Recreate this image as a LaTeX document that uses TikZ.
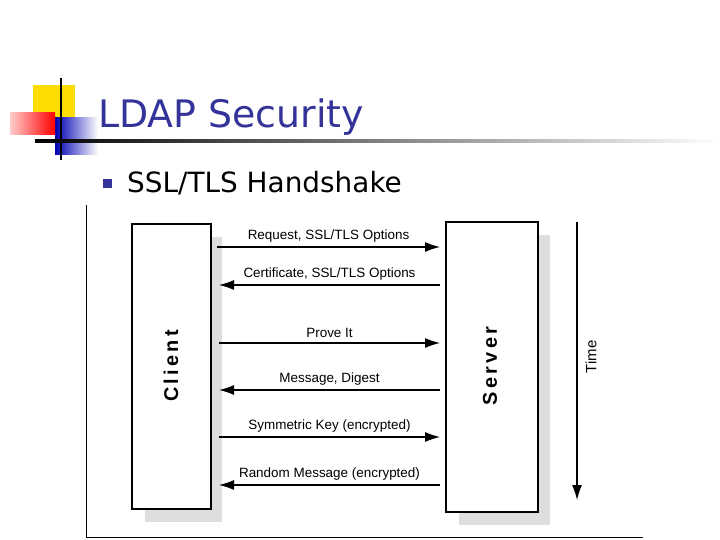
\documentclass[tikz,border=0pt]{standalone}
\usepackage{fontspec}
\setmainfont{Liberation Sans}
\newfontfamily\titlefont{DejaVu Sans}
\usetikzlibrary{arrows.meta}
\definecolor{ttl}{RGB}{51,51,153}
\definecolor{shd}{RGB}{222,222,222}
\tikzset{
  box/.style={draw=black,line width=1.5bp,fill=white},
  shadow/.style={fill=shd,draw=none},
  msg/.style={line width=1.2bp,-{Latex[length=15bp,width=10bp]}},
  lbl/.style={font=\fontsize{13.5}{16}\selectfont,anchor=south},
  x=1bp,y=-1bp
}
\begin{document}
\begin{tikzpicture}
\useasboundingbox (0,0) rectangle (720,540);
\fill[white] (0,0) rectangle (720,540);
% logo
\fill[yellow!80!orange] (33,85) rectangle (75,125);
\shade[left color=blue!70!black,right color=white] (55,118) rectangle (98,155);
\shade[left color=red!20,right color=red] (10,113) rectangle (55,135);
\draw[line width=1.5bp] (61,78) -- (61,160);
\shade[left color=black,right color=white] (35,140) rectangle (720,142.5);
\node[anchor=base west,text=ttl,inner sep=0,font=\titlefont\fontsize{38}{44}\selectfont] (title) at (98,128) {LDAP Security};
\fill[ttl] (103,179) rectangle (112,188);
\node[anchor=base west,inner sep=0,font=\titlefont\fontsize{28}{32}\selectfont] (sub) at (127,193) {SSL/TLS Handshake};
% frame
\draw[line width=1bp] (86,205) -- (86,537) -- (643,537);
% shadows and boxes
\fill[shadow] (145,237) rectangle (222,522);
\fill[shadow] (459,235) rectangle (550,525);
\draw[box] (132,224) rectangle (211,509);
\draw[box] (446,222) rectangle (538,512);
\node[rotate=90,font=\bfseries\fontsize{20}{24}\selectfont] (client) at (171,366) {C\,l\,i\,e\,n\,t};
\node[rotate=90,font=\bfseries\fontsize{20}{24}\selectfont] (server) at (490,366) {S\,e\,r\,v\,e\,r};
% messages
\coordinate (l1) at (217,247); \coordinate (r1) at (440,247);
\coordinate (l2) at (219,285); \coordinate (r2) at (440,285);
\coordinate (l3) at (219,343); \coordinate (r3) at (440,343);
\coordinate (l4) at (219,390); \coordinate (r4) at (440,390);
\coordinate (l5) at (219,437); \coordinate (r5) at (440,437);
\coordinate (l6) at (219,485); \coordinate (r6) at (440,485);
\draw[msg] (l1) -- node[lbl,yshift=1bp]{Request, SSL/TLS Options} (r1);
\draw[msg] (r2) -- node[lbl,yshift=1bp]{Certificate, SSL/TLS Options} (l2);
\draw[msg] (l3) -- node[lbl,yshift=1bp]{Prove It} (r3);
\draw[msg] (r4) -- node[lbl,yshift=1bp]{Message, Digest} (l4);
\draw[msg] (l5) -- node[lbl,yshift=1bp]{Symmetric Key (encrypted)} (r5);
\draw[msg] (r6) -- node[lbl,yshift=1bp]{Random Message (encrypted)} (l6);
% time
\coordinate (t0) at (577,222); \coordinate (t1) at (577,500);
\draw[msg] (t0) -- (t1);
\node[rotate=90,font=\fontsize{15}{18}\selectfont] (time) at (591,357) {Time};
\end{tikzpicture}
\end{document}
